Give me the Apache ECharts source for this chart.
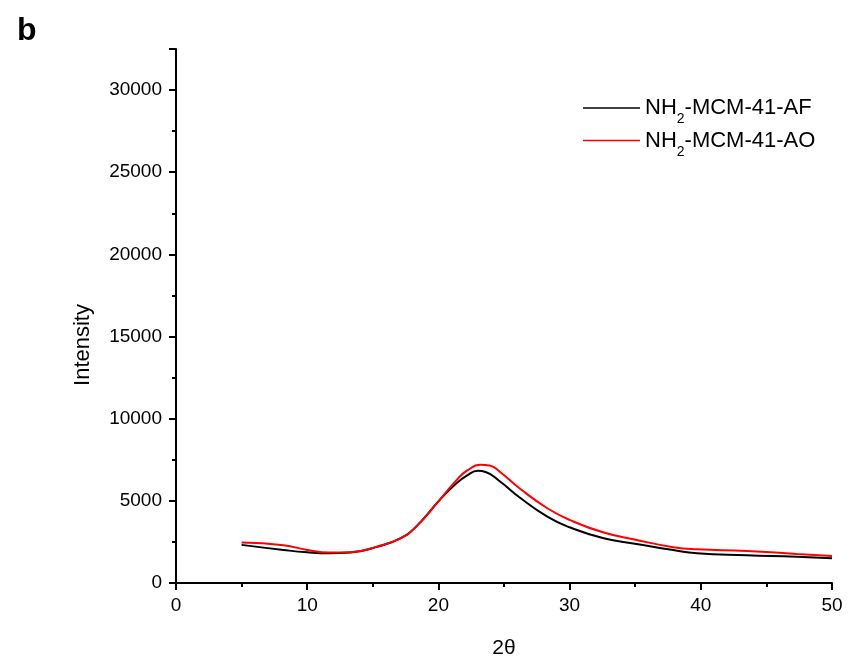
<!DOCTYPE html>
<html lang="en">
<head>
  <meta charset="UTF-8">
  <title>XRD</title>
</head>
<body style="margin:0">
  <div id="main" style="width:849px;height:664px"></div>
  <script src="https://cdn.jsdelivr.net/npm/echarts@6/dist/echarts.min.js"></script>
  <script>
    // 2θ values and intensities
    var afPoints = [
      [5, 2320], [8.2, 2010], [10, 1870], [11.7, 1810], [13.3, 1860], [15.3, 2200],
      [17.1, 2720], [18.3, 3430], [20.1, 5060], [21.4, 6080], [22.2, 6550], [23.0, 6830],
      [23.6, 6760], [24.7, 6180], [26.2, 5200], [28.3, 4040], [30.0, 3390], [32.6, 2720],
      [35.1, 2380], [37.9, 2010], [39.7, 1810], [43.5, 1690], [47.3, 1600], [50, 1500]
    ]
    var aoPoints = [
      [5, 2460], [8.2, 2300], [10, 2010], [11.7, 1850], [13.3, 1870], [15.3, 2215],
      [17.1, 2720], [18.3, 3430], [20.1, 5060], [21.4, 6280], [22.2, 6850], [23.2, 7200],
      [23.9, 7150], [24.7, 6760], [26.2, 5750], [28.3, 4550], [30.0, 3840], [32.6, 3070],
      [35.1, 2620], [37.9, 2180], [39.7, 2050], [43.5, 1950], [47.3, 1770], [50, 1650]
    ]
    var seriesNames = ['NH2-MCM-41-AF', 'NH2-MCM-41-AO']

    var chart = echarts.init(document.getElementById('main'))
    var font = 'Liberation Sans, Arial, sans-serif'

    chart.setOption({
      animation: false,
      textStyle: { fontFamily: font },
      title: {
        text: 'b', left: 12, top: 10,
        textStyle: { fontSize: 32, fontWeight: 'bold', color: '#000', fontFamily: font }
      },
      // y axis title sits a bit below the axis middle in the original
      graphic: [{
        type: 'text', x: 83, y: 345, rotation: Math.PI / 2,
        style: {
          text: 'Intensity', fontSize: 22, fontFamily: font, fill: '#000',
          align: 'center', verticalAlign: 'middle'
        }
      }],
      grid: { left: 176, right: 17, top: 49, bottom: 79 },
      legend: {
        orient: 'vertical', left: 578, top: 92, itemGap: 3,
        icon: 'rect', itemWidth: 57, itemHeight: 1.5,
        data: seriesNames,
        formatter: function (name) {
          return '{a|NH}{s|2}{a|' + name.slice(3) + '}'
        },
        textStyle: {
          rich: {
            a: { fontSize: 22, color: '#000', fontFamily: font },
            s: { fontSize: 14, color: '#000', fontFamily: font, padding: [23, 0, 0, 0] }
          }
        }
      },
      xAxis: {
        type: 'value', min: 0, max: 50, interval: 10,
        name: '2θ', nameLocation: 'middle', nameGap: 55,
        nameTextStyle: { fontSize: 21, color: '#000', verticalAlign: 'top' },
        axisLine: { lineStyle: { color: '#000', width: 2 } },
        axisTick: { length: 7, lineStyle: { width: 2 } },
        minorTick: { show: true, splitNumber: 2, length: 4, lineStyle: { color: '#000', width: 2 } },
        axisLabel: { fontSize: 19, color: '#000', margin: 13 },
        splitLine: { show: false }
      },
      yAxis: {
        type: 'value', min: 0, max: 32500, interval: 5000,
        axisLine: { lineStyle: { color: '#000', width: 2 } },
        axisTick: { length: 7, lineStyle: { width: 2 } },
        minorTick: { show: true, splitNumber: 2, length: 4, lineStyle: { color: '#000', width: 2 } },
        axisLabel: {
          fontSize: 19, color: '#000', margin: 14,
          formatter: function (v) { return v % 5000 === 0 ? String(v) : '' }
        },
        splitLine: { show: false }
      },
      series: [
        {
          name: seriesNames[0], type: 'line', data: afPoints, smooth: 0.5,
          symbol: 'none', lineStyle: { color: '#000', width: 2 }, itemStyle: { color: '#000' }
        },
        {
          name: seriesNames[1], type: 'line', data: aoPoints, smooth: 0.5,
          symbol: 'none', lineStyle: { color: '#ff0000', width: 2 }, itemStyle: { color: '#ff0000' }
        }
      ]
    })
  </script>
</body>
</html>
